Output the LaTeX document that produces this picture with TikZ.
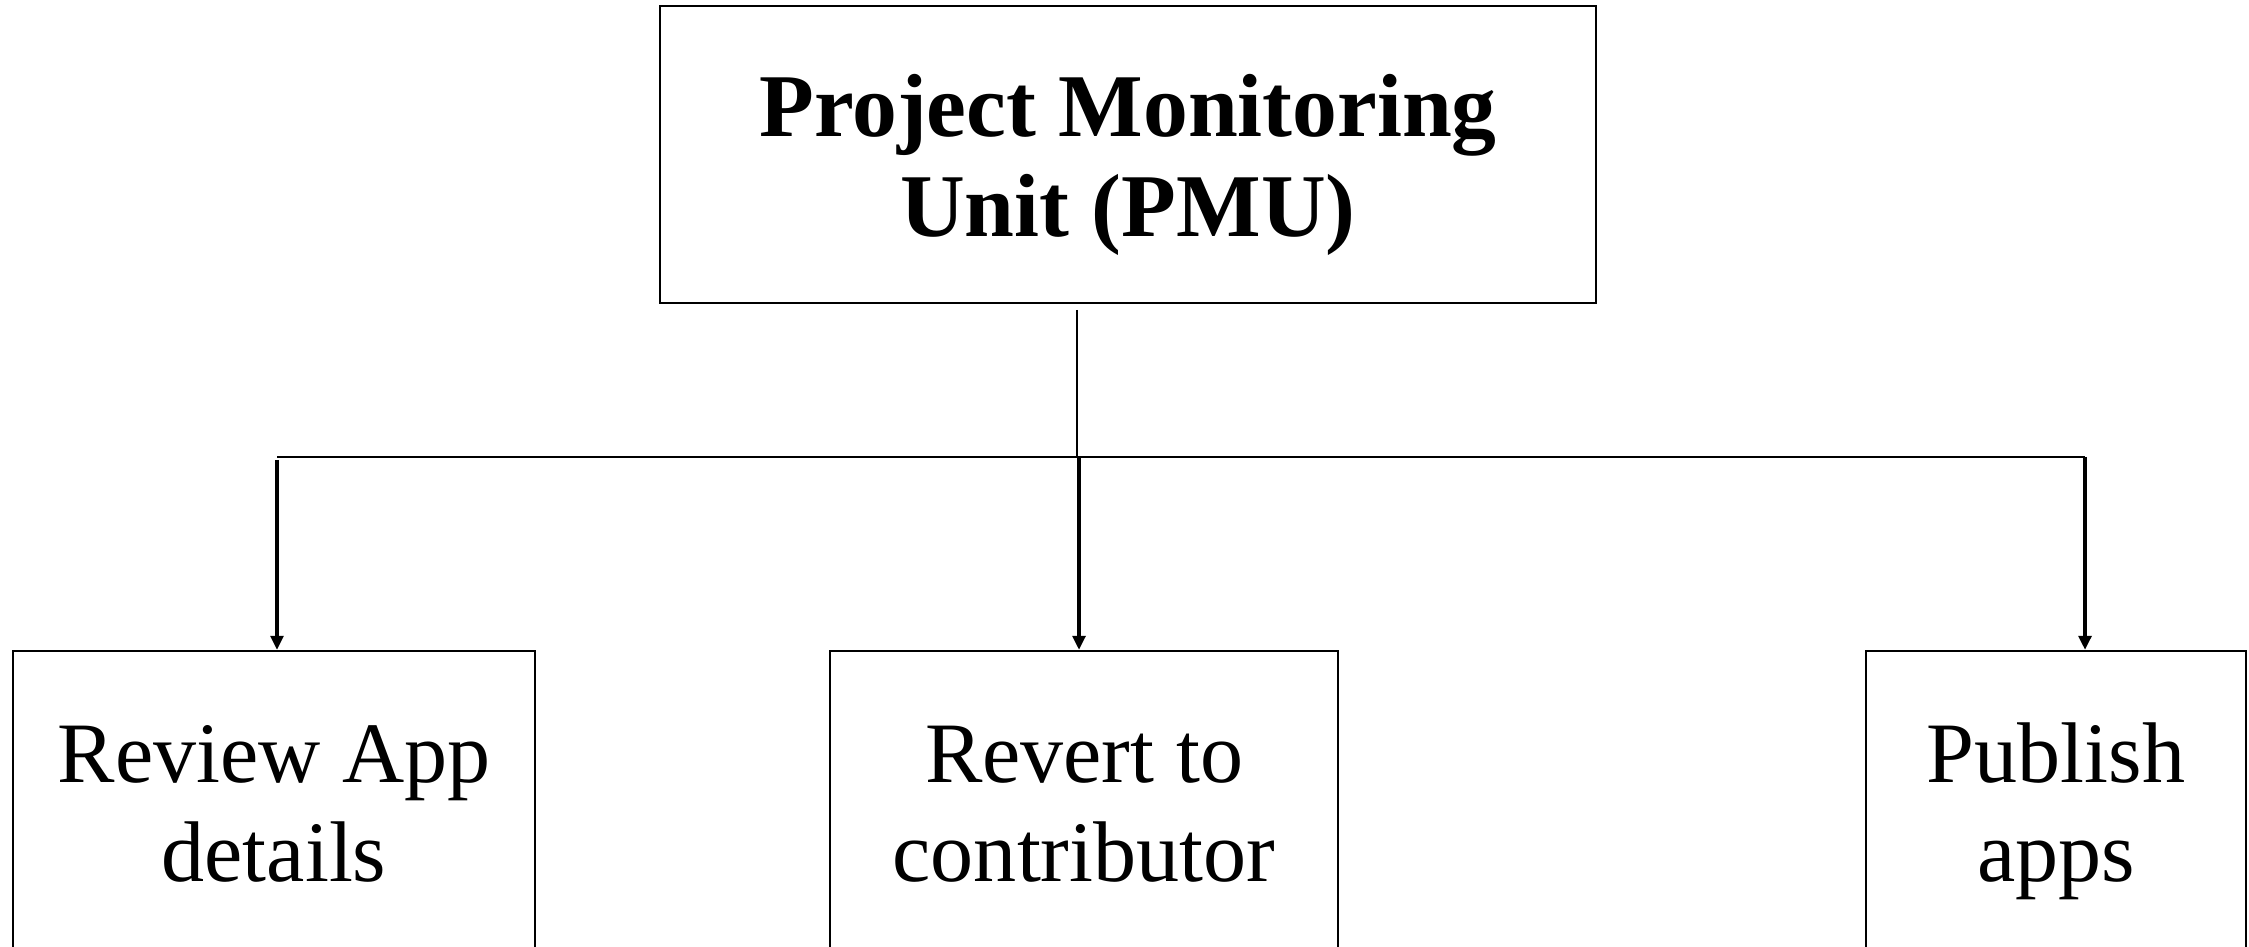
\documentclass[tikz,border=0pt]{standalone}
\usepackage{fontspec}
\setmainfont{Liberation Serif}
\usepackage{tikz}
\usetikzlibrary{arrows.meta, positioning, calc}

\begin{document}
\begin{tikzpicture}[
    unitbox/.style={draw, line width=0.7pt, align=center, inner sep=0pt,
        text height=1.65cm, text depth=0cm},
    taskbox/.style={draw, line width=0.7pt, align=center, inner sep=0pt,
        minimum height=3.02cm, text height=1.6cm, text depth=0cm,
        font=\fontsize{24.5}{28.2}\selectfont},
    feed/.style={line width=0.9pt, -{Triangle[length=1.4mm, width=1.3mm]}}
]
\useasboundingbox (0,0) rectangle (22.49,9.47);
\clip (0,0) rectangle (22.49,9.47);
% Head unit
\node[unitbox, minimum width=9.36cm, minimum height=2.97cm,
      font=\fontsize{25.5}{28.5}\selectfont\bfseries] (pmu) at (11.28,7.925)
    {Project Monitoring\\Unit (PMU)};
% Tasks
\node[taskbox, minimum width=5.22cm] (review) at (2.74,1.45) {Review App\\details};
\node[taskbox, minimum width=5.08cm] (revert) at (10.84,1.45) {Revert to\\contributor};
\node[taskbox, minimum width=3.80cm] (publish) at (20.56,1.45) {Publish\\apps};
% Bus
\coordinate (stem) at (10.77,6.37);
\coordinate (hub) at (10.77,4.90);
\coordinate (busL) at (2.77,4.90);
\coordinate (busM) at (10.79,4.90);
\coordinate (busR) at (20.85,4.90);
\draw[line width=0.4pt] (stem) -- (hub);
\draw[line width=0.4pt] (busL) -- (busR);
\draw[feed] ($(busL)+(0,-0.03)$) -- (busL |- review.north);
\draw[feed] (busM) -- (busM |- revert.north);
\draw[feed] (busR) -- (busR |- publish.north);
\end{tikzpicture}
\end{document}
